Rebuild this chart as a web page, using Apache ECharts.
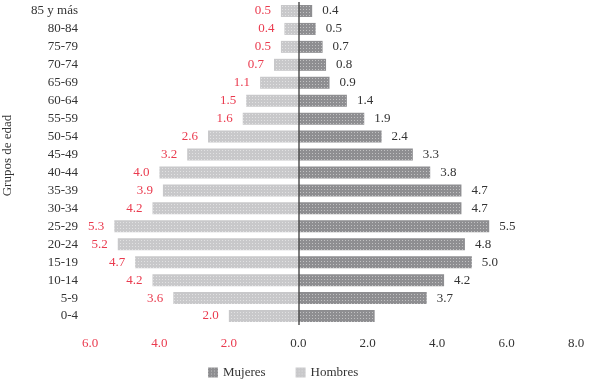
<!DOCTYPE html>
<html>
<head>
<meta charset="utf-8">
<script src="https://cdn.jsdelivr.net/npm/echarts@6/dist/echarts.min.js"></script>
<style>
  html, body { margin: 0; padding: 0; background: #fff; }
  #main { width: 589px; height: 382px; }
</style>
</head>
<body>
<div id="main"></div>
<script>
var grupos = ['0-4', '5-9', '10-14', '15-19', '20-24', '25-29', '30-34', '35-39', '40-44',
  '45-49', '50-54', '55-59', '60-64', '65-69', '70-74', '75-79', '80-84', '85 y más'];
var hombres = [2.0, 3.6, 4.2, 4.7, 5.2, 5.3, 4.2, 3.9, 4.0, 3.2, 2.6, 1.6, 1.5, 1.1, 0.7, 0.5, 0.4, 0.5];
var mujeres = [2.2, 3.7, 4.2, 5.0, 4.8, 5.5, 4.7, 4.7, 3.8, 3.3, 2.4, 1.9, 1.4, 0.9, 0.8, 0.7, 0.5, 0.4];
// la etiqueta de 0-4 en mujeres no aparece en el original
var sinEtiqueta = ['0-4'];

var fuente = 'Liberation Serif';
var rojo = '#ea3a4e';
var decal = {
  symbol: 'rect',
  symbolSize: 1,
  color: 'rgba(255,255,255,0.45)',
  dashArrayX: [1, 2],
  dashArrayY: [1, 2],
  rotation: 0
};

var option = {
  textStyle: { fontFamily: fuente },
  animation: false,
  grid: {
    left: 90,
    right: 13,
    top: 2,
    bottom: 57,
    outerBoundsMode: 'none'
  },
  legend: {
    bottom: -2,
    left: 203,
    itemWidth: 10,
    itemHeight: 10,
    itemGap: 30,
    icon: 'rect',
    textStyle: { fontFamily: fuente, fontSize: 13, color: '#333' },
    data: ['Mujeres', 'Hombres']
  },
  xAxis: {
    type: 'value',
    min: -6,
    max: 8,
    interval: 2,
    axisLine: { show: false },
    axisTick: { show: false },
    splitLine: { show: false },
    axisLabel: {
      margin: 12,
      fontFamily: fuente,
      fontSize: 13,
      formatter: function (v) {
        return Math.abs(v).toFixed(1);
      },
      color: function (v) {
        return v < 0 ? rojo : '#333';
      }
    }
  },
  yAxis: {
    type: 'category',
    data: grupos,
    name: 'Grupos de edad',
    nameLocation: 'middle',
    nameRotate: 90,
    nameGap: 76,
    nameTextStyle: { fontFamily: fuente, fontSize: 13, color: '#333', padding: [0, 0, 0, 16] },
    axisLine: { show: false },
    axisTick: { show: false },
    axisLabel: { margin: 12, fontFamily: fuente, fontSize: 13, color: '#333' }
  },
  series: [
    {
      name: 'Mujeres',
      type: 'bar',
      stack: 'pir',
      barWidth: 12,
      data: mujeres,
      itemStyle: { color: '#8e8e91', decal: decal },
      label: {
        show: true,
        position: 'right',
        distance: 10,
        fontFamily: fuente,
        fontSize: 13,
        color: '#333',
        formatter: function (p) {
          return sinEtiqueta.indexOf(p.name) >= 0 ? '' : p.value.toFixed(1);
        }
      },
      markLine: {
        silent: true,
        symbol: 'none',
        label: { show: false },
        lineStyle: { color: '#555', width: 1.5, type: 'solid' },
        data: [{ xAxis: 0 }]
      }
    },
    {
      name: 'Hombres',
      type: 'bar',
      stack: 'pir',
      barWidth: 12,
      data: hombres.map(function (v) { return -v; }),
      itemStyle: { color: '#c8c8ca', decal: decal },
      label: {
        show: true,
        position: 'left',
        distance: 10,
        fontFamily: fuente,
        fontSize: 13,
        color: rojo,
        formatter: function (p) {
          return Math.abs(p.value).toFixed(1);
        }
      }
    }
  ]
};

echarts.init(document.getElementById('main')).setOption(option);
</script>
</body>
</html>
